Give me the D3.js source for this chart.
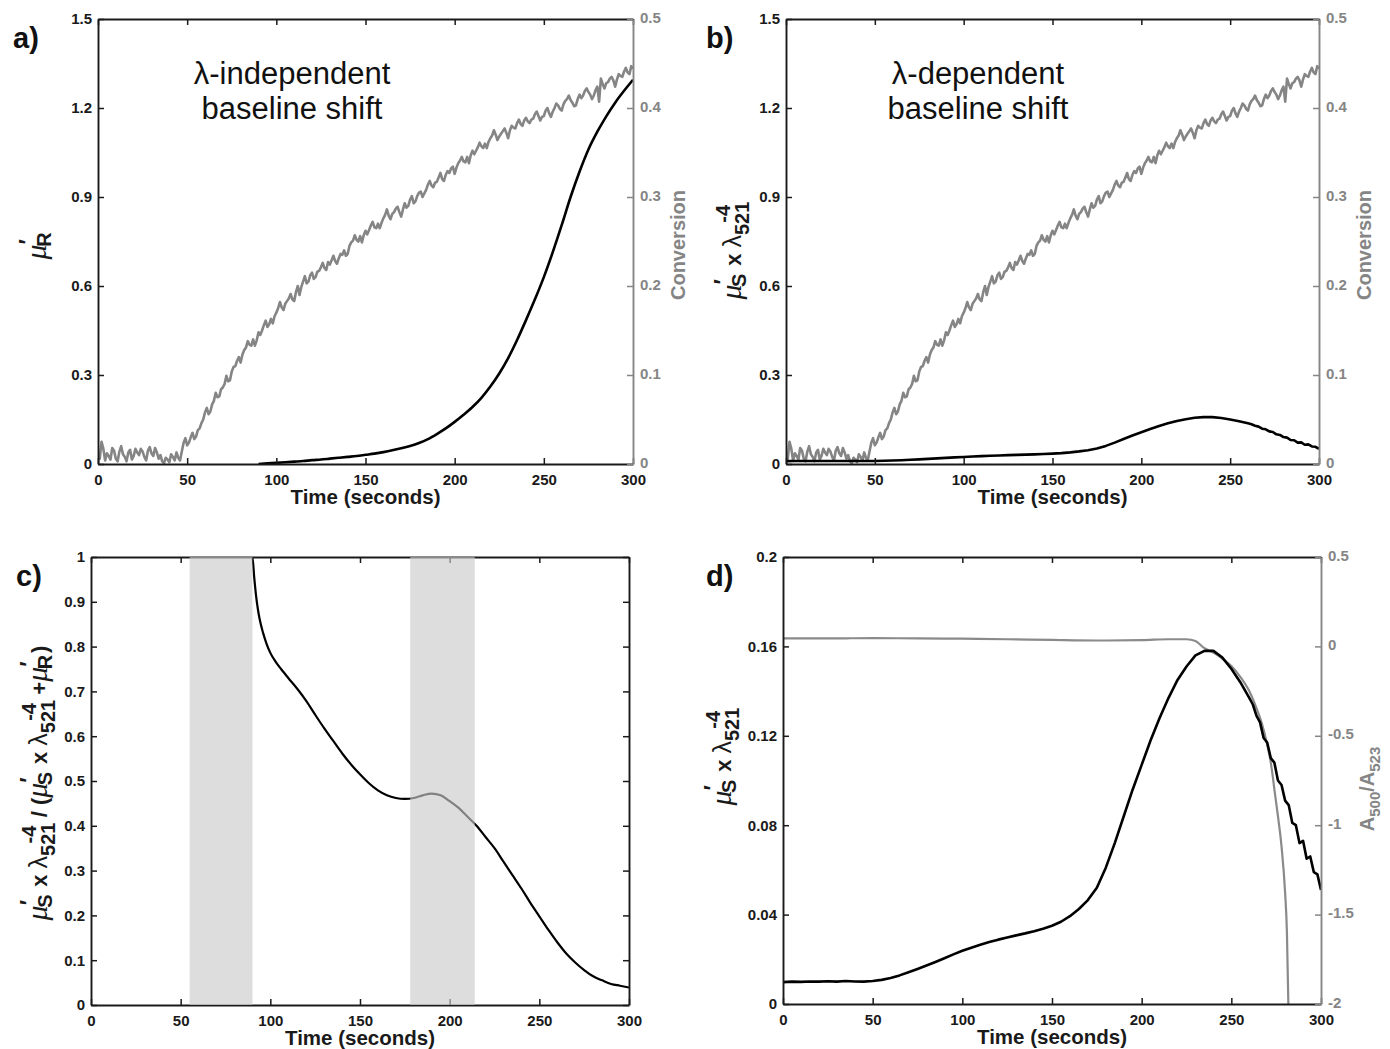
<!DOCTYPE html>
<html>
<head>
<meta charset="utf-8">
<script src="https://cdn.jsdelivr.net/npm/d3@7"></script>
<style>
  body { margin: 0; background: #fff; }
  text { font-family: "Liberation Sans", Arial, Helvetica, sans-serif; }
</style>
</head>
<body>
<script>
// ---- data ----
var xTicks = [0, 50, 100, 150, 200, 250, 300];
var abTicks = [0, 0.3, 0.6, 0.9, 1.2, 1.5];
var convTicks = [0, 0.1, 0.2, 0.3, 0.4, 0.5];
var cTicks = [0, 0.1, 0.2, 0.3, 0.4, 0.5, 0.6, 0.7, 0.8, 0.9, 1];
var dTicks = [0, 0.04, 0.08, 0.12, 0.16, 0.2];
var ratioTicks = [-2, -1.5, -1, -0.5, 0, 0.5];

// conversion (panels a, b), one reading per second from t = 0, in thousandths
var convStep = 1;
var conversion = [
  12, 6, 25, 17, 4, 12, 9, 5, 18, 15, 6, 3, 14, 20, 11, 8, 3, 13, 16, 5,
  9, 17, 13, 10, 17, 14, 8, 4, 15, 19, 12, 9, 18, 13, 6, 10, 3, 1, 7, 5,
  2, 11, 8, 4, 13, 7, 4, 14, 24, 29, 21, 24, 30, 35, 28, 31, 38, 40, 46, 50,
  58, 63, 56, 59, 67, 71, 80, 75, 76, 84, 86, 90, 99, 93, 94, 104, 109, 110, 116, 120,
  114, 123, 128, 131, 138, 134, 133, 140, 133, 139, 148, 145, 150, 156, 161, 154, 157, 163, 158, 166,
  170, 175, 182, 176, 173, 180, 183, 186, 191, 185, 183, 193, 200, 190, 199, 205, 211, 203, 205, 212,
  215, 208, 210, 216, 217, 221, 226, 220, 218, 227, 224, 229, 234, 228, 225, 231, 236, 235, 240, 234,
  236, 245, 249, 251, 257, 252, 250, 256, 249, 257, 262, 258, 263, 268, 272, 266, 265, 270, 265, 271,
  276, 280, 286, 279, 275, 281, 283, 287, 289, 283, 278, 286, 293, 288, 290, 297, 301, 293, 295, 301,
  305, 306, 300, 304, 308, 314, 318, 313, 311, 316, 317, 322, 327, 320, 318, 325, 329, 327, 332, 334,
  326, 333, 338, 341, 345, 340, 339, 345, 338, 347, 352, 348, 352, 356, 361, 357, 355, 360, 355, 362,
  366, 369, 375, 370, 364, 368, 371, 374, 377, 372, 366, 375, 380, 378, 377, 383, 387, 382, 380, 386,
  389, 385, 383, 387, 388, 393, 396, 391, 386, 390, 391, 397, 400, 394, 390, 396, 400, 405, 403, 399,
  397, 404, 408, 410, 414, 409, 406, 402, 403, 410, 415, 411, 414, 419, 422, 418, 415, 410, 414, 420,
  424, 407, 433, 427, 422, 428, 429, 433, 435, 431, 424, 432, 438, 436, 435, 441, 445, 440, 438, 447,
  444
];

// mu'_R (panel a)
var muRTime = [90, 95, 100, 105, 110, 115, 120, 125, 130, 135, 140, 145, 150, 155, 160,
  165, 170, 175, 180, 185, 190, 195, 200, 205, 210, 215, 220, 225, 230, 235, 240,
  245, 250, 255, 260, 265, 270, 275, 280, 285, 290, 295, 300];
var muR = [0, 0.002, 0.004, 0.006, 0.008, 0.010, 0.013, 0.015, 0.018, 0.021, 0.024, 0.027, 0.031, 0.035, 0.040,
  0.046, 0.053, 0.061, 0.071, 0.084, 0.101, 0.120, 0.142, 0.166, 0.192, 0.223, 0.261, 0.305, 0.357, 0.418, 0.485,
  0.555, 0.630, 0.714, 0.805, 0.900, 0.985, 1.060, 1.120, 1.172, 1.218, 1.258, 1.295];

// mu'_S x lambda^-4 (panels b, d)
var muSTime = [0, 5, 10, 15, 20, 25, 30, 35, 40, 45, 50, 55, 60, 65, 70, 75, 80, 85, 90, 95,
  100, 105, 110, 115, 120, 125, 130, 135, 140, 145, 150, 155, 160, 165, 170, 175, 180, 185, 190, 195,
  200, 205, 210, 215, 220, 225, 230, 235, 240, 245, 250, 255,
  260, 262, 264, 266, 268, 270, 272, 274, 276, 278, 280, 282, 284, 286, 288, 290, 292, 294, 296, 298, 300];
var muS = [0.0098, 0.0100, 0.0099, 0.0101, 0.0100, 0.0102, 0.0100, 0.0103, 0.0101, 0.0100,
  0.0103, 0.0108, 0.0116, 0.0128, 0.0142, 0.0157, 0.0172, 0.0188, 0.0205, 0.0222,
  0.0238, 0.0252, 0.0265, 0.0277, 0.0288, 0.0298, 0.0307, 0.0316, 0.0326, 0.0337,
  0.0350, 0.0368, 0.0393, 0.0425, 0.0465, 0.0520, 0.0610, 0.0720, 0.0840, 0.0960,
  0.1070, 0.1180, 0.1280, 0.1370, 0.1450, 0.1510, 0.1560, 0.1580, 0.1580, 0.1550, 0.1500, 0.1440,
  0.137, 0.134, 0.129, 0.126, 0.119, 0.117, 0.110, 0.108, 0.100, 0.098, 0.091, 0.089,
  0.081, 0.080, 0.072, 0.073, 0.065, 0.066, 0.059, 0.058, 0.051];

// fraction (panel c)
var fracTime = [0, 55, 90, 91, 92, 93, 94, 96, 98, 100, 103, 106, 110, 115, 120, 125, 130, 135, 140, 145,
  150, 155, 160, 165, 170, 175, 180, 185, 190, 195, 200, 205, 210, 215, 220, 225, 230, 235, 240,
  245, 250, 255, 260, 265, 270, 275, 280, 285, 290, 295, 300];
var frac = [1, 1, 1, 0.955, 0.915, 0.885, 0.862, 0.83, 0.805, 0.786, 0.766, 0.75, 0.73, 0.706, 0.679, 0.648, 0.618, 0.59, 0.562, 0.537,
  0.515, 0.495, 0.479, 0.468, 0.462, 0.460, 0.462, 0.468, 0.472, 0.468, 0.455, 0.440, 0.420, 0.400, 0.375, 0.350, 0.320, 0.290, 0.260,
  0.228, 0.198, 0.168, 0.140, 0.115, 0.095, 0.078, 0.064, 0.055, 0.047, 0.043, 0.039];
var cBands = [[55, 90], [178, 214]];

// A500/A523 (panel d)
var ratioTime = [0, 25, 50, 75, 100, 125, 150, 175, 200, 215, 225, 230, 235, 240, 245, 250, 255, 260,
  264, 267, 270, 272, 273, 274, 276, 278, 280, 281, 281.8];
var ratio = [0.045, 0.045, 0.046, 0.045, 0.043, 0.040, 0.036, 0.033, 0.035, 0.040, 0.040, 0.030, -0.010, -0.035,
  -0.068, -0.110, -0.170, -0.250, -0.345, -0.430, -0.550, -0.650, -0.720, -0.800, -0.950, -1.120, -1.380, -1.600, -2.0];

// ---- drawing ----
var svg = d3.select("body").append("svg").attr("width", 1390).attr("height", 1049);
var fmt = function (d) { return String(+d.toFixed(2)); };
var GREY = "#858585", DARK = "#1a1a1a";

function pairs(t, v) { return v.map(function (d, i) { return [t[i], d]; }); }
var convPairs = conversion.map(function (v, i) { return [i * convStep, v / 1000]; });

function styleAxis(sel, color, labelColor) {
  sel.attr("font-family", null).attr("font-size", null);
  sel.select(".domain").attr("stroke", color).attr("stroke-width", 1.9);
  sel.selectAll(".tick line").attr("stroke", color).attr("stroke-width", 1.5);
  sel.selectAll(".tick text").attr("fill", labelColor).style("font-size", "15px").style("font-weight", "bold");
}

function panel(p) {
  var x = d3.scaleLinear().domain([0, 300]).range([p.left, p.right]);
  var y = d3.scaleLinear().domain(p.yDomain).range([p.bottom, p.top]);
  var y2 = p.y2Domain ? d3.scaleLinear().domain(p.y2Domain).range([p.bottom, p.top]) : null;
  var g = svg.append("g");
  g.append("clipPath").attr("id", "clip-" + p.name).append("rect")
    .attr("x", p.left).attr("y", p.top)
    .attr("width", p.right - p.left).attr("height", p.bottom - p.top);
  var plot = g.append("g").attr("clip-path", "url(#clip-" + p.name + ")");

  p.series.forEach(function (s) {
    var sy = s.right ? y2 : y;
    plot.append("path").datum(s.data)
      .attr("fill", "none").attr("stroke", s.color).attr("stroke-width", s.width)
      .attr("stroke-linejoin", "round")
      .attr("d", d3.line().curve(s.smooth ? d3.curveMonotoneX : d3.curveLinear)
        .x(function (d) { return x(d[0]); }).y(function (d) { return sy(d[1]); }));
  });

  g.append("g").attr("transform", "translate(0," + p.top + ")")
    .call(d3.axisTop(x).tickValues(xTicks).tickFormat("").tickSize(-6).tickSizeOuter(0))
    .call(styleAxis, DARK, DARK);
  g.append("g").attr("transform", "translate(0," + p.bottom + ")")
    .call(d3.axisBottom(x).tickValues(xTicks).tickFormat(fmt).tickSize(-6).tickSizeOuter(0).tickPadding(10))
    .call(styleAxis, DARK, DARK);
  g.append("g").attr("transform", "translate(" + p.left + ",0)")
    .call(d3.axisLeft(y).tickValues(p.yTicks).tickFormat(fmt).tickSize(-6).tickSizeOuter(0).tickPadding(6))
    .call(styleAxis, DARK, DARK);
  if (y2) {
    g.append("g").attr("transform", "translate(" + p.right + ",0)")
      .call(d3.axisRight(y2).tickValues(p.y2Ticks).tickFormat(fmt).tickSize(-6).tickSizeOuter(0).tickPadding(7))
      .call(styleAxis, GREY, GREY)
      .selectAll(".tick text").attr("dy", "0.2em");
  } else {
    g.append("g").attr("transform", "translate(" + p.right + ",0)")
      .call(d3.axisRight(y).tickValues(p.yTicks).tickFormat("").tickSize(-6).tickSizeOuter(0))
      .call(styleAxis, DARK, DARK);
  }

  if (p.bands) {
    g.selectAll(".band").data(p.bands).enter().append("rect")
      .attr("x", function (d) { return x(d[0]); })
      .attr("width", function (d) { return x(d[1]) - x(d[0]); })
      .attr("y", p.top).attr("height", p.bottom - p.top)
      .attr("fill", "rgb(202,202,202)").attr("fill-opacity", 0.64);
  }

  svg.append("text").attr("x", (p.left + p.right) / 2).attr("y", p.bottom + 40)
    .attr("text-anchor", "middle").attr("fill", DARK)
    .style("font-size", "20.5px").style("font-weight", "bold").text("Time (seconds)");
  svg.append("text").attr("x", p.letterX).attr("y", p.top + 29)
    .attr("fill", "#111").style("font-size", "29px").style("font-weight", "bold").text(p.letter);
}

// rotated label built from pieces
function vLabel(cx, cy, parts, color, size) {
  var t = svg.append("text")
    .attr("transform", "translate(" + cx + "," + cy + ") rotate(-90)")
    .attr("text-anchor", "middle").attr("fill", color)
    .style("font-weight", "bold").style("font-size", size + "px");
  parts.forEach(function (q) {
    var s = t.append("tspan").text(q.t);
    if (q.dx) s.attr("dx", q.dx);
    if (q.dy) s.attr("dy", q.dy);
    s.style("font-size", (q.size || size) + "px");
    if (q.it) s.style("font-style", "italic").style("font-weight", "normal")
      .style("font-family", "'Liberation Serif', 'DejaVu Serif', serif");
    if (q.norm) s.style("font-weight", "normal");
  });
}

function muPart(sub) {
  return [{ t: "\u03bc", it: 1, size: 30 }, { t: "\u2032", dy: -10, size: 23 },
    { t: sub, dx: -8, dy: 15, size: 20 }, { t: "\u200a", dy: -5 }];
}
var lamPart = [{ t: "x", dx: 6 }, { t: "\u03bb", dx: 6, norm: 1, size: 25 }, { t: "521", dy: 8, size: 20 },
  { t: "-4", dx: -21, dy: -19, size: 20 }, { t: "\u2009", dy: 11 }];

panel({
  name: "a", left: 98, right: 633, top: 19, bottom: 464, letter: "a)", letterX: 13,
  yDomain: [0, 1.5], yTicks: abTicks, y2Domain: [0, 0.5], y2Ticks: convTicks,
  series: [
    { data: convPairs, right: true, color: GREY, width: 2.6 },
    { data: pairs(muRTime, muR), color: "#000", width: 2.6, smooth: true }
  ]
});
panel({
  name: "b", left: 786, right: 1319, top: 19, bottom: 464, letter: "b)", letterX: 706,
  yDomain: [0, 1.5], yTicks: abTicks, y2Domain: [0, 0.5], y2Ticks: convTicks,
  series: [
    { data: convPairs, right: true, color: GREY, width: 2.6 },
    { data: pairs(muSTime, muS), color: "#000", width: 2.6 }
  ]
});
panel({
  name: "c", left: 91, right: 629, top: 557, bottom: 1005, letter: "c)", letterX: 16,
  yDomain: [0, 1], yTicks: cTicks, bands: cBands,
  series: [{ data: pairs(fracTime, frac), color: "#000", width: 2.2, smooth: true }]
});
panel({
  name: "d", left: 783, right: 1321, top: 557, bottom: 1004, letter: "d)", letterX: 706,
  yDomain: [0, 0.2], yTicks: dTicks, y2Domain: [-2, 0.5], y2Ticks: ratioTicks,
  series: [
    { data: pairs(ratioTime, ratio), right: true, color: "#8a8a8a", width: 2.2, smooth: true },
    { data: pairs(muSTime, muS), color: "#000", width: 2.6 }
  ]
});

// annotations
[["\u03bb-independent", 292], ["\u03bb-dependent", 978]].forEach(function (a) {
  var t = svg.append("text").attr("x", a[1]).attr("y", 84).attr("text-anchor", "middle")
    .attr("fill", "#111").style("font-size", "31px");
  t.append("tspan").attr("x", a[1]).text(a[0]);
  t.append("tspan").attr("x", a[1]).attr("dy", 35).text("baseline shift");
});

// axis titles
vLabel(46, 245, muPart("R"), DARK, 22);
vLabel(741, 250, muPart("S").concat(lamPart), DARK, 22);
vLabel(47, 783, muPart("S").concat(lamPart, [{ t: "/ (", dx: 4 }], muPart("S"), lamPart,
  [{ t: "+", dx: 4 }], muPart("R"), [{ t: ")" }]), DARK, 22);
vLabel(731, 756, muPart("S").concat(lamPart), DARK, 22);
vLabel(685, 245, [{ t: "Conversion" }], GREY, 20);
vLabel(1371, 245, [{ t: "Conversion" }], GREY, 20);
vLabel(1374, 789, [{ t: "A" }, { t: "500", dy: 6, size: 15 }, { t: "/A", dy: -6 }, { t: "523", dy: 6, size: 15 }], GREY, 20);
</script>
</body>
</html>
